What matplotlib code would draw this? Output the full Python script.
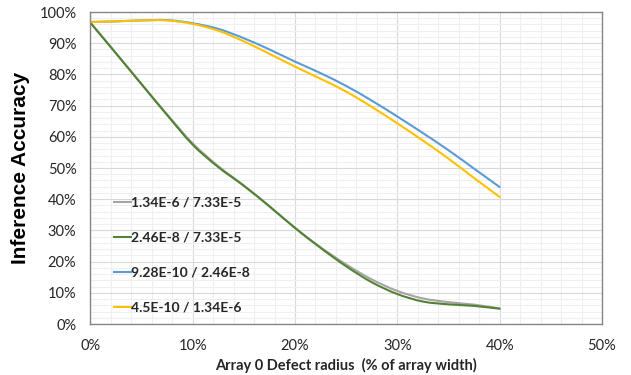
import matplotlib
matplotlib.use("Agg")
import matplotlib.pyplot as plt
from matplotlib.path import Path
from matplotlib.patches import PathPatch
from matplotlib.lines import Line2D
from matplotlib.ticker import MultipleLocator, FuncFormatter

# defect radius (% of array width)
radius = [0, 2.5, 5, 7.5, 10, 12.5, 15, 17.5, 20, 22.5, 25, 27.5, 30, 32.5, 35, 37.5, 40]

# inference accuracy (%) per fault-rate pair
acc_gray = [96.6, 86.8, 76.9, 67.2, 57.9, 50.6, 44.4, 37.8, 30.8, 24.6, 19.1, 14.3, 10.6, 8.2, 7.0, 6.2, 5.0]
acc_green = [96.6, 86.8, 76.9, 67.0, 57.5, 50.3, 44.3, 37.7, 30.8, 24.4, 18.5, 13.4, 9.6, 7.2, 6.3, 5.8, 4.9]
acc_blue = [96.8, 97.0, 97.3, 97.4, 96.4, 94.6, 91.6, 88.0, 84.1, 80.4, 76.3, 71.6, 66.5, 61.2, 55.7, 49.8, 43.9]
acc_yellow = [96.8, 97.0, 97.3, 97.3, 96.2, 94.0, 90.6, 86.6, 82.5, 78.6, 74.5, 69.6, 64.3, 58.8, 53.0, 46.8, 40.7]

labels = ["1.34E-6 / 7.33E-5", "2.46E-8 / 7.33E-5", "9.28E-10 / 2.46E-8", "4.5E-10 / 1.34E-6"]
colors = ["#a5a5a5", "#548235", "#5b9bd5", "#ffc000"]


def smooth_path(xs, ys):
    # excel style smoothed line: bezier segments with catmull-rom handles
    verts = [(xs[0], ys[0])]
    codes = [Path.MOVETO]
    n = len(xs)
    for i in range(n - 1):
        x0, y0 = (xs[i - 1], ys[i - 1]) if i > 0 else (xs[i], ys[i])
        x3, y3 = (xs[i + 2], ys[i + 2]) if i + 2 < n else (xs[i + 1], ys[i + 1])
        c1 = (xs[i] + (xs[i + 1] - x0) / 6, ys[i] + (ys[i + 1] - y0) / 6)
        c2 = (xs[i + 1] - (x3 - xs[i]) / 6, ys[i + 1] - (y3 - ys[i]) / 6)
        verts += [c1, c2, (xs[i + 1], ys[i + 1])]
        codes += [Path.CURVE4] * 3
    return Path(verts, codes)


plt.rcParams['font.family'] = ['Lato', 'DejaVu Sans']

fig = plt.figure(figsize=(6.31, 3.75), dpi=100)
ax = fig.add_axes([0.1431, 0.136, 0.8109, 0.832])

handles = []
for ys, lab, c in zip([acc_gray, acc_green, acc_blue, acc_yellow], labels, colors):
    ax.add_patch(PathPatch(smooth_path(radius, ys), facecolor='none', edgecolor=c,
                           lw=1.5, capstyle='round', joinstyle='round'))
    handles.append(Line2D([], [], color=c, lw=1.5, label=lab))

ax.set_xlim(0, 50)
ax.set_ylim(0, 100)
ax.xaxis.set_major_locator(MultipleLocator(10))
ax.xaxis.set_minor_locator(MultipleLocator(2))
ax.yaxis.set_major_locator(MultipleLocator(10))
ax.yaxis.set_minor_locator(MultipleLocator(2))
pct = FuncFormatter(lambda v, p: "%d%%" % v)
ax.xaxis.set_major_formatter(pct)
ax.yaxis.set_major_formatter(pct)

ax.grid(which='major', color='#d9d9d9', lw=0.8)
ax.grid(which='minor', color='#efefef', lw=0.8)
ax.set_axisbelow(True)
ax.tick_params(which='both', length=0)
ax.tick_params(axis='y', pad=10, labelsize=10.5, labelcolor='#262626')
ax.tick_params(axis='x', pad=11, labelsize=10.5, labelcolor='#262626')
for s in ax.spines.values():
    s.set_color('#868686')
    s.set_linewidth(1.0)

ax.set_xlabel("Array 0 Defect radius  (% of array width)", fontsize=10.5,
              fontweight='bold', color='#262626', labelpad=3)
ax.set_ylabel("Inference Accuracy", fontsize=15, fontweight='bold',
              family='Liberation Sans', color='black', labelpad=7)

leg = ax.legend(handles=handles, loc='upper left', bbox_to_anchor=(0.035, 0.425),
                frameon=False, prop={'weight': 'bold', 'size': 10}, handlelength=1.25,
                handletextpad=0.0, labelspacing=1.65, borderaxespad=0)
for t in leg.get_texts():
    t.set_color('#262626')

fig.savefig("out.png", dpi=100)
